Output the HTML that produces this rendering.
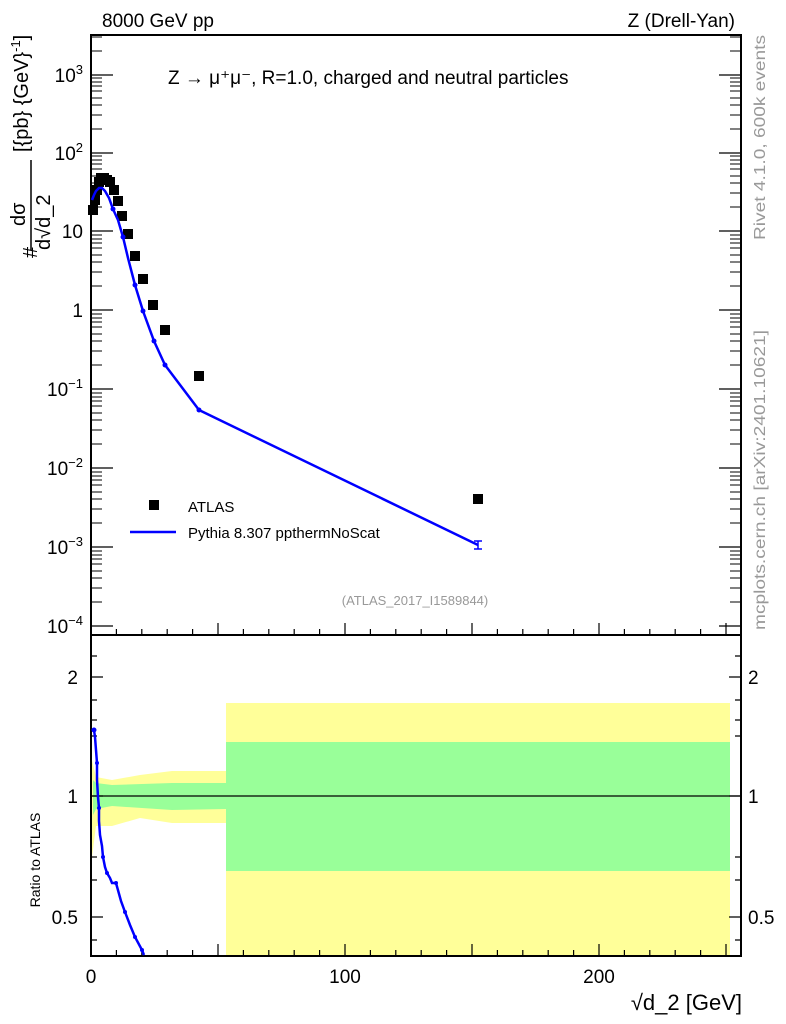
<!DOCTYPE html>
<html><head><meta charset="utf-8"><style>
body{margin:0;background:#fff}
svg{display:block;font-family:"Liberation Sans",sans-serif}
</style></head><body>
<svg width="786" height="1024" viewBox="0 0 786 1024">
<rect width="786" height="1024" fill="#fff"/>
<polygon fill="#ffff99" points="92,760 96,777 112,780 140,775 172,771 226,771 226,823 172,823 140,818 112,826 96,826 92,857"/>
<polygon fill="#99ff99" points="93,780 96,783 112,785 172,783 226,783 226,809 172,810 112,806 96,809 93,815"/>
<rect x="226" y="703" width="504" height="252" fill="#ffff99"/>
<rect x="226" y="742" width="504" height="129" fill="#99ff99"/>
<line x1="91" y1="796" x2="741" y2="796" stroke="#000" stroke-width="1.2"/>
<rect x="91" y="35" width="650" height="600" fill="none" stroke="#000" stroke-width="2"/>
<rect x="91" y="635" width="650" height="321" fill="none" stroke="#000" stroke-width="2"/>
<g stroke="#000" stroke-width="1.2">
<path d="M116.4,635v-6M141.8,635v-6M167.2,635v-6M192.6,635v-6M218,635v-12M243.4,635v-6M268.8,635v-6M294.2,635v-6M319.6,635v-6M345,635v-12M370.4,635v-6M395.8,635v-6M421.2,635v-6M446.6,635v-6M472,635v-12M497.4,635v-6M522.8,635v-6M548.2,635v-6M573.6,635v-6M599,635v-12M624.4,635v-6M649.8,635v-6M675.2,635v-6M700.6,635v-6M726,635v-12"/>
<path d="M116.4,956v-6M141.8,956v-6M167.2,956v-6M192.6,956v-6M218,956v-12M243.4,956v-6M268.8,956v-6M294.2,956v-6M319.6,956v-6M345,956v-12M370.4,956v-6M395.8,956v-6M421.2,956v-6M446.6,956v-6M472,956v-12M497.4,956v-6M522.8,956v-6M548.2,956v-6M573.6,956v-6M599,956v-12M624.4,956v-6M649.8,956v-6M675.2,956v-6M700.6,956v-6M726,956v-12"/>
<path d="M91,626h22M91,547h22M91,468h22M91,389h22M91,310h22M91,231h22M91,153h22M91,75h22"/>
<path d="M741,626h-22M741,547h-22M741,468h-22M741,389h-22M741,310h-22M741,231h-22M741,153h-22M741,75h-22"/>
<path d="M91,917h12M91,796h12M91,677h12M741,917h-12M741,796h-12M741,677h-12"/>
<path d="M91,857h6M91,736h6M91,656h6M91,700h6M91,720h6M91,880h6M91,940h6M741,857h-6M741,736h-6M741,656h-6M741,700h-6M741,720h-6M741,880h-6M741,940h-6"/>
</g>
<g stroke="#000" stroke-width="1">
<path d="M91,602h11M91,588h11M91,578h11M91,571h11M91,564h11M91,559h11M91,555h11M91,551h11
M91,523h11M91,509h11M91,499h11M91,492h11M91,485h11M91,480h11M91,476h11M91,472h11
M91,444h11M91,430h11M91,420h11M91,413h11M91,406h11M91,401h11M91,397h11M91,393h11
M91,286h11M91,272h11M91,262h11M91,255h11M91,248h11M91,243h11M91,239h11M91,235h11
M91,365h11M91,351h11M91,341h11M91,334h11M91,327h11M91,322h11M91,318h11M91,314h11
M91,207h11M91,193h11M91,183h11M91,176h11M91,169h11M91,164h11M91,160h11M91,156h11
M91,129h11M91,115h11M91,105h11M91,98h11M91,91h11M91,86h11M91,82h11M91,78h11
M91,51h11M91,37h11"/>
</g>
<g stroke="#000" stroke-width="1" transform="translate(832,0) scale(-1,1)">
<path d="M91,602h11M91,588h11M91,578h11M91,571h11M91,564h11M91,559h11M91,555h11M91,551h11
M91,523h11M91,509h11M91,499h11M91,492h11M91,485h11M91,480h11M91,476h11M91,472h11
M91,444h11M91,430h11M91,420h11M91,413h11M91,406h11M91,401h11M91,397h11M91,393h11
M91,286h11M91,272h11M91,262h11M91,255h11M91,248h11M91,243h11M91,239h11M91,235h11
M91,365h11M91,351h11M91,341h11M91,334h11M91,327h11M91,322h11M91,318h11M91,314h11
M91,207h11M91,193h11M91,183h11M91,176h11M91,169h11M91,164h11M91,160h11M91,156h11
M91,129h11M91,115h11M91,105h11M91,98h11M91,91h11M91,86h11M91,82h11M91,78h11
M91,51h11M91,37h11"/>
</g>
<g fill="#000">
<rect x="88" y="205" width="10" height="10"/><rect x="90" y="195" width="10" height="10"/>
<rect x="92" y="185" width="10" height="10"/><rect x="94" y="177" width="10" height="10"/>
<rect x="96" y="173" width="10" height="10"/><rect x="99" y="173" width="10" height="10"/>
<rect x="102" y="175" width="10" height="10"/><rect x="105" y="177" width="10" height="10"/>
<rect x="109" y="185" width="10" height="10"/><rect x="113" y="196" width="10" height="10"/>
<rect x="117" y="211" width="10" height="10"/><rect x="123" y="229" width="10" height="10"/>
<rect x="130" y="251" width="10" height="10"/><rect x="138" y="274" width="10" height="10"/>
<rect x="148" y="300" width="10" height="10"/><rect x="160" y="325" width="10" height="10"/>
<rect x="194" y="371" width="10" height="10"/><rect x="473" y="494" width="10" height="10"/>
<rect x="149" y="500" width="10" height="10"/>
</g>
<polyline fill="none" stroke="#0000ff" stroke-width="2.5" points="92,200 94,195 96,191 99,188 102,188 105,191 109,198 113,209 118,220 123,237 128,258 135,285 143,311 154,341 165,365 199,410 478,545"/>
<g fill="#0000ff"><circle cx="113" cy="209" r="2.5"/><circle cx="123" cy="237" r="2.5"/><circle cx="135" cy="285" r="2.5"/><circle cx="143" cy="311" r="2.5"/><circle cx="154" cy="341" r="2.5"/><circle cx="165" cy="365" r="2.5"/><circle cx="199" cy="410" r="2.5"/></g>
<path d="M478,541v8M474,541h8M474,549h8" stroke="#0000ff" stroke-width="1.5"/>
<polyline fill="none" stroke="#0000ff" stroke-width="2.5" points="94,730 95,737 96,750 97,763 97,780 98,797 99,808 99,821 100,835 102,846 103,857 105,867 107,873 110,878 112,883 116,883 121,901 125,912 130,925 135,937 142,950 144,955"/>
<g fill="#0000ff"><circle cx="94" cy="730" r="2.5"/><circle cx="97" cy="763" r="2"/><circle cx="99" cy="808" r="2"/><circle cx="103" cy="857" r="2"/><circle cx="107" cy="873" r="2"/><circle cx="116" cy="883" r="2"/><circle cx="125" cy="912" r="2"/><circle cx="135" cy="937" r="2"/><circle cx="142" cy="950" r="2"/></g>
<line x1="130" y1="532" x2="176" y2="532" stroke="#0000ff" stroke-width="2.5"/>
<g font-size="19" fill="#000">
<text x="102" y="27">8000 GeV pp</text>
<text x="735" y="27" text-anchor="end">Z (Drell-Yan)</text>
<text x="168" y="84">Z → μ⁺μ⁻, R=1.0, charged and neutral particles</text>
</g>
<g font-size="15" fill="#000">
<text x="188" y="512">ATLAS</text>
<text x="188" y="538">Pythia 8.307 ppthermNoScat</text>
</g>
<text x="415" y="605" font-size="13" fill="#999" text-anchor="middle">(ATLAS_2017_I1589844)</text>
<g font-size="19" fill="#000" text-anchor="end">
<text x="83" y="82">10<tspan font-size="13" dy="-8">3</tspan></text>
<text x="83" y="160">10<tspan font-size="13" dy="-8">2</tspan></text>
<text x="83" y="238">10</text>
<text x="83" y="317">1</text>
<text x="83" y="396">10<tspan font-size="13" dy="-8">−1</tspan></text>
<text x="83" y="475">10<tspan font-size="13" dy="-8">−2</tspan></text>
<text x="83" y="554">10<tspan font-size="13" dy="-8">−3</tspan></text>
<text x="83" y="633">10<tspan font-size="13" dy="-8">−4</tspan></text>
<text x="78" y="684">2</text><text x="78" y="803">1</text><text x="78" y="924">0.5</text>
</g>
<g font-size="19" fill="#000">
<text x="748" y="684">2</text><text x="748" y="803">1</text><text x="748" y="924">0.5</text>
</g>
<g font-size="19" fill="#000" text-anchor="middle">
<text x="91" y="983">0</text><text x="345" y="983">100</text><text x="599" y="983">200</text>
</g>
<text x="742" y="1010" font-size="22" text-anchor="end">√d_2 [GeV]</text>
<text transform="translate(40,860) rotate(-90)" font-size="14" text-anchor="middle">Ratio to ATLAS</text>
<g transform="rotate(-90)" font-size="20" fill="#000">
<text x="-258" y="37">#</text>
<text x="-226" y="25">dσ</text>
<line x1="-250" y1="31" x2="-160" y2="31" stroke="#000" stroke-width="1.5"/>
<text x="-250" y="50">d√d_2</text>
<text x="-152" y="28">[{pb} {GeV}<tspan font-size="13" dy="-8">-1</tspan><tspan dy="8">]</tspan></text>
</g>
<text transform="translate(765,240) rotate(-90)" font-size="16" fill="#999" textLength="205" lengthAdjust="spacingAndGlyphs">Rivet 4.1.0,  600k events</text>
<text transform="translate(765,630) rotate(-90)" font-size="16" fill="#999" textLength="300" lengthAdjust="spacingAndGlyphs">mcplots.cern.ch [arXiv:2401.10621]</text>
</svg>
</body></html>
